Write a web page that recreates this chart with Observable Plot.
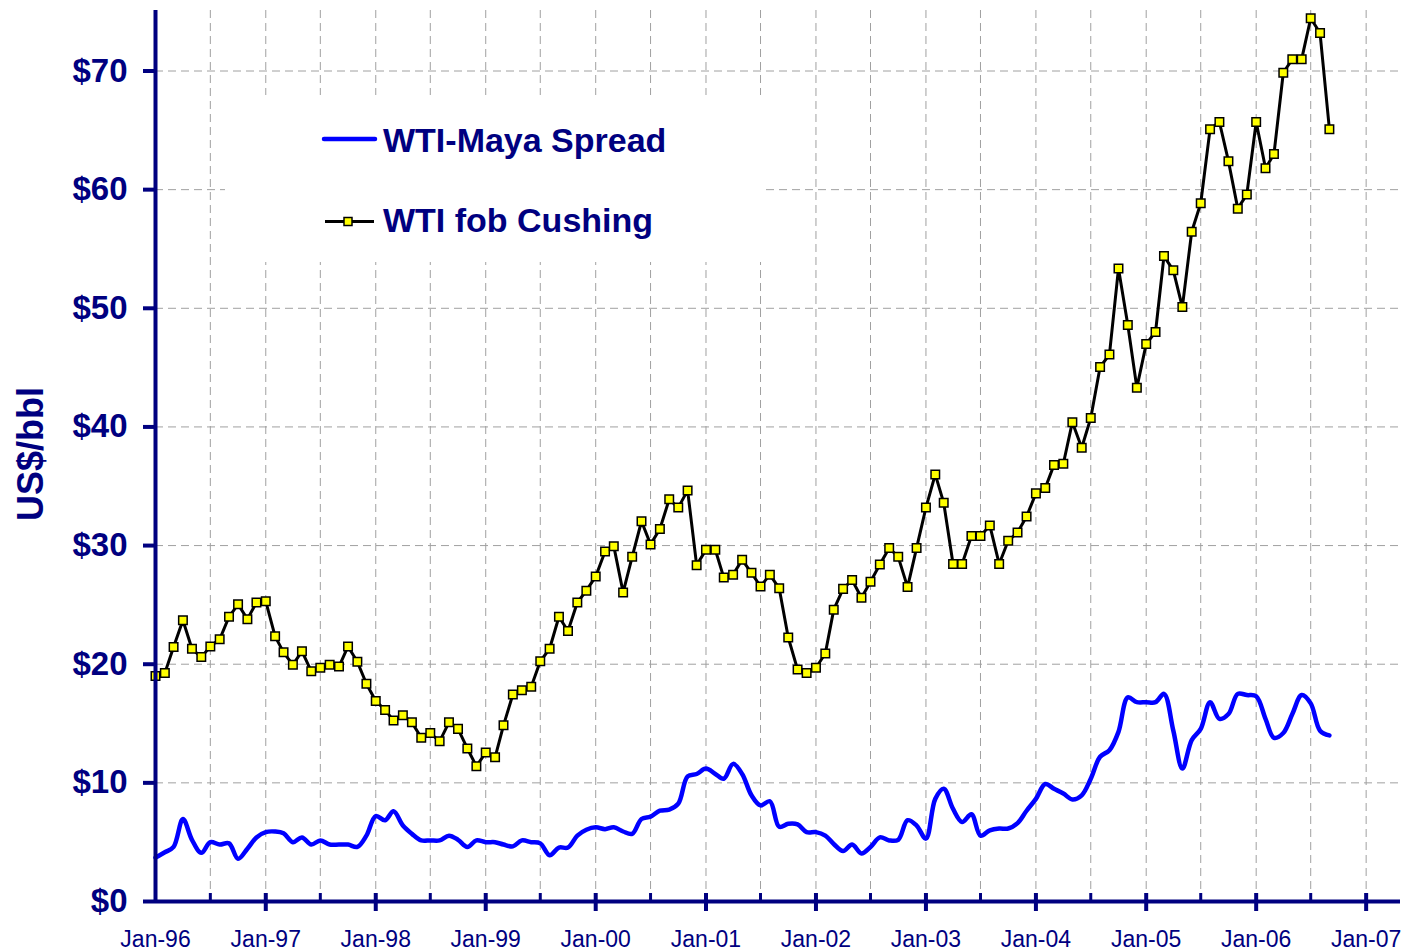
<!DOCTYPE html>
<html>
<head>
<meta charset="utf-8">
<script src="https://cdn.jsdelivr.net/npm/d3@7"></script>
<script src="https://cdn.jsdelivr.net/npm/@observablehq/plot@0.6"></script>
<style>
  html, body { margin: 0; padding: 0; background: #ffffff; }
  #chart { position: relative; width: 1408px; height: 952px; }
  svg { display: block; }
</style>
</head>
<body>
<div id="chart"></div>
<script>
// ---------- DATA (monthly, Jan-1996 .. Sep-2006) ----------
const firstMonth = "1996-01-01";
const monthCount = 129;

const wtiCushing = [
  19.0, 19.25, 21.45, 23.7, 21.3, 20.6, 21.5, 22.1, 24.0, 25.05, 23.8, 25.2,
  25.3, 22.35, 21.0, 19.95, 21.1, 19.4, 19.7, 19.95, 19.8, 21.5, 20.2, 18.35,
  16.9, 16.15, 15.25, 15.7, 15.1, 13.8, 14.2, 13.5, 15.1, 14.55, 12.9, 11.4,
  12.55, 12.15, 14.85, 17.45, 17.8, 18.1, 20.25, 21.3, 24.0, 22.8, 25.2, 26.2,
  27.4, 29.5, 29.95, 26.05, 29.05, 32.05, 30.1, 31.4, 33.9, 33.2, 34.65, 28.35,
  29.65, 29.65, 27.3, 27.55, 28.8, 27.7, 26.55, 27.55, 26.4, 22.25, 19.55, 19.25,
  19.7, 20.9, 24.6, 26.35, 27.1, 25.6, 26.95, 28.4, 29.8, 29.05, 26.5, 29.8,
  33.2, 36.0, 33.6, 28.45, 28.45, 30.8, 30.8, 31.7, 28.45, 30.4, 31.1, 32.45,
  34.4, 34.85, 36.8, 36.9, 40.4, 38.25, 40.75, 45.05, 46.1, 53.35, 48.6, 43.3,
  47.0, 48.0, 54.4, 53.2, 50.1, 56.45, 58.85, 65.1, 65.7, 62.4, 58.4, 59.6,
  65.7, 61.8, 63.0, 69.85, 71.0, 71.0, 74.45, 73.2, 65.1
];

const wtiMayaSpread = [
  3.7, 4.15, 4.6, 6.95, 5.2, 4.1, 5.0, 4.8, 4.9, 3.6, 4.45, 5.4,
  5.85, 5.9, 5.75, 5.0, 5.4, 4.8, 5.15, 4.8, 4.8, 4.8, 4.6, 5.55,
  7.2, 6.85, 7.6, 6.4, 5.7, 5.15, 5.15, 5.15, 5.55, 5.2, 4.6, 5.15,
  5.0, 5.0, 4.8, 4.65, 5.15, 5.0, 4.9, 3.9, 4.55, 4.55, 5.55, 6.05,
  6.25, 6.1, 6.25, 5.9, 5.7, 6.95, 7.15, 7.65, 7.75, 8.25, 10.55, 10.75,
  11.2, 10.75, 10.35, 11.6, 10.75, 8.95, 8.1, 8.45, 6.3, 6.55, 6.5, 5.85,
  5.85, 5.55, 4.85, 4.25, 4.8, 4.05, 4.6, 5.4, 5.15, 5.2, 6.85, 6.4,
  5.3, 8.65, 9.5, 7.8, 6.7, 7.35, 5.55, 6.0, 6.15, 6.15, 6.6, 7.65,
  8.65, 9.9, 9.5, 9.1, 8.6, 8.95, 10.35, 12.2, 12.75, 14.3, 17.2, 16.8,
  16.8, 16.8, 17.5, 14.4, 11.2, 13.6, 14.55, 16.8, 15.4, 15.8, 17.5, 17.4,
  17.3, 15.4, 13.8, 14.2, 15.8, 17.4, 16.7, 14.4, 14.0
];

const yTicks = [0, 10, 20, 30, 40, 50, 60, 70];
const yearTicks = ["1996-01-01","1997-01-01","1998-01-01","1999-01-01","2000-01-01","2001-01-01",
                   "2002-01-01","2003-01-01","2004-01-01","2005-01-01","2006-01-01","2007-01-01"];
const midYearTicks = ["1996-07-01","1997-07-01","1998-07-01","1999-07-01","2000-07-01","2001-07-01",
                      "2002-07-01","2003-07-01","2004-07-01","2005-07-01","2006-07-01"];
const seriesNames = ["WTI-Maya Spread", "WTI fob Cushing"];
const yAxisTitle = "US$/bbl";

// ---------- BUILD TABLES ----------
const months = d3.utcMonth.range(new Date(firstMonth), d3.utcMonth.offset(new Date(firstMonth), monthCount));
const wtiData = months.map((d, i) => ({date: d, value: wtiCushing[i]}));
const spreadData = months.map((d, i) => ({date: d, value: wtiMayaSpread[i]}));
const majorDates = yearTicks.map(s => new Date(s));
const minorDates = midYearTicks.map(s => new Date(s));
const gridDates = [...majorDates.slice(1), ...minorDates];

const NAVY = "#000080";
const FONT = "Arial, 'Liberation Sans', Helvetica, sans-serif";

const chart = Plot.plot({
  width: 1408,
  height: 952,
  marginLeft: 155,
  marginRight: 8,
  marginTop: 10,
  marginBottom: 51,
  style: {fontFamily: FONT, background: "#ffffff"},
  x: {type: "utc", domain: [new Date("1996-01-01"), new Date("2007-04-25")], label: null},
  y: {domain: [0, 75.1], label: null},
  marks: [
    // gridlines
    Plot.ruleY(yTicks.filter(d => d > 0), {stroke: "#a0a0a0", strokeWidth: 1, strokeDasharray: "8,5"}),
    Plot.ruleX(gridDates, {stroke: "#a0a0a0", strokeWidth: 1, strokeDasharray: "8,5"}),
    // series
    Plot.line(spreadData, {x: "date", y: "value", stroke: "#0000ff", strokeWidth: 4.5, curve: "catmull-rom", strokeLinejoin: "round", strokeLinecap: "round"}),
    Plot.line(wtiData, {x: "date", y: "value", stroke: "#000000", strokeWidth: 3, strokeLinejoin: "round"}),
    Plot.dot(wtiData, {x: "date", y: "value", symbol: "square", r: 4.8, fill: "#ffff00", stroke: "#000000", strokeWidth: 1.5}),
    // axes
    Plot.ruleY([0], {stroke: NAVY, strokeWidth: 4}),
    Plot.ruleX([majorDates[0]], {stroke: NAVY, strokeWidth: 4}),
    Plot.ruleX(majorDates.slice(1), {y1: 0, y2: 0, insetTop: -8, insetBottom: -10, stroke: NAVY, strokeWidth: 4}),
    Plot.ruleX(minorDates, {y1: 0, y2: 0, insetTop: -8, insetBottom: 0, stroke: NAVY, strokeWidth: 3}),
    Plot.axisY({ticks: yTicks, tickFormat: d => "$" + d, tickSize: 12, tickPadding: 16,
                stroke: NAVY, strokeWidth: 4, fill: NAVY, fontSize: 33, fontWeight: "bold", label: null}),
    Plot.axisX({ticks: majorDates, tickFormat: d3.utcFormat("Jan-%y"), tickSize: 0, tickPadding: 29,
                fill: NAVY, fontSize: 23, label: null})
  ]
});

document.getElementById("chart").appendChild(chart);

// ---------- Y AXIS TITLE + LEGEND ----------
const svg = d3.select(chart);
svg.append("text")
  .attr("transform", "translate(43,454) rotate(-90)")
  .attr("text-anchor", "middle")
  .attr("fill", NAVY)
  .attr("font-family", FONT)
  .attr("font-size", 36)
  .attr("font-weight", "bold")
  .text(yAxisTitle);

const lg = svg.append("g").attr("text-anchor", "start");
lg.append("rect").attr("x", 225).attr("y", 95).attr("width", 540).attr("height", 167).attr("fill", "#ffffff");
lg.append("line").attr("x1", 324).attr("x2", 375).attr("y1", 139).attr("y2", 139)
  .attr("stroke", "#0000ff").attr("stroke-width", 4.5).attr("stroke-linecap", "round");
lg.append("text").attr("x", 383).attr("y", 151.5).attr("text-anchor", "start").attr("fill", NAVY).attr("font-family", FONT)
  .attr("font-size", 34).attr("font-weight", "bold").text(seriesNames[0]);
lg.append("line").attr("x1", 325).attr("x2", 374).attr("y1", 221.5).attr("y2", 221.5)
  .attr("stroke", "#000000").attr("stroke-width", 3);
lg.append("rect").attr("x", 344).attr("y", 217.5).attr("width", 8).attr("height", 8)
  .attr("fill", "#ffff00").attr("stroke", "#000000").attr("stroke-width", 1.5);
lg.append("text").attr("x", 383).attr("y", 231.5).attr("text-anchor", "start").attr("fill", NAVY).attr("font-family", FONT)
  .attr("font-size", 34).attr("font-weight", "bold").text(seriesNames[1]);
</script>
</body>
</html>
